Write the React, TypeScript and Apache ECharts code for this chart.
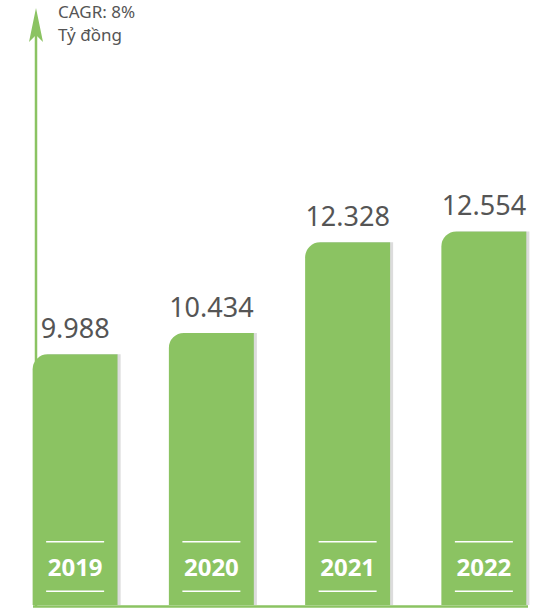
import React, { useEffect, useRef } from "react";
import * as echarts from "echarts";

const years = ["2019", "2020", "2021", "2022"];
const revenue = [9988, 10434, 12328, 12554];
const titleLines = ["CAGR: 8%", "Tỷ đồng"];

const GREEN = "#8bc362";
const TEXT = "#555555";

function fmt(v: number): string {
  return String(v).replace(/\B(?=(\d{3})+(?!\d))/g, ".");
}

export default function App() {
  const ref = useRef<HTMLDivElement>(null);
  useEffect(() => {
    document.body.style.margin = "0";
    const chart = echarts.init(ref.current!, null, { renderer: "svg" });
    chart.setOption({
      animation: false,
      backgroundColor: "#ffffff",
      grid: { left: 7, width: 545, top: 100, bottom: 4 },
      xAxis: {
        type: "category",
        data: years,
        axisLine: { show: false },
        axisTick: { show: false },
        axisLabel: {
          inside: true,
          margin: 13,
          formatter: (v: string) => `{l|}\n{y|${v}}\n{l|}`,
          rich: {
            l: { width: 58, height: 1.5, backgroundColor: "#ffffff" },
            y: {
              color: "#ffffff",
              fontSize: 24,
              fontWeight: "bold",
              fontFamily: "Noto Sans",
              lineHeight: 48,
            },
          },
        },
        z: 10,
      },
      yAxis: {
        type: "value",
        min: 4750,
        max: 15300,
        show: false,
      },
      series: [
        {
          type: "bar",
          data: revenue,
          barWidth: 85,
          itemStyle: {
            color: GREEN,
            borderRadius: [15, 0, 0, 0],
            shadowColor: "#dcdcdc",
            shadowOffsetX: 3,
            shadowOffsetY: 0,
            shadowBlur: 0,
          },
          label: {
            show: true,
            position: "top",
            distance: 13,
            color: TEXT,
            fontSize: 27,
            fontFamily: "Noto Sans",
            formatter: (p: any) => fmt(p.value),
          },
        },
      ],
      graphic: [
        {
          type: "line",
          shape: { x1: 33, y1: 606.5, x2: 528, y2: 606.5 },
          style: { stroke: GREEN, lineWidth: 2.5 },
          z: 20,
        },
        {
          type: "line",
          shape: { x1: 36, y1: 607, x2: 36, y2: 30 },
          style: { stroke: GREEN, lineWidth: 2.5 },
          z: 20,
        },
        {
          type: "polygon",
          shape: { points: [[36, 8], [43, 42], [36, 35], [29, 42]] },
          style: { fill: GREEN },
          z: 20,
        },
        {
          type: "text",
          left: 58,
          top: 3,
          style: {
            text: titleLines[0],
            fill: TEXT,
            font: '17px "Noto Sans"',
          },
        },
        {
          type: "text",
          left: 58,
          top: 26,
          style: {
            text: titleLines[1],
            fill: TEXT,
            font: '17px "Noto Sans"',
          },
        },
      ],
    });
    return () => chart.dispose();
  }, []);
  return (
    <div
      ref={ref}
      style={{ position: "absolute", left: 0, top: 0, width: 560, height: 609 }}
    />
  );
}
